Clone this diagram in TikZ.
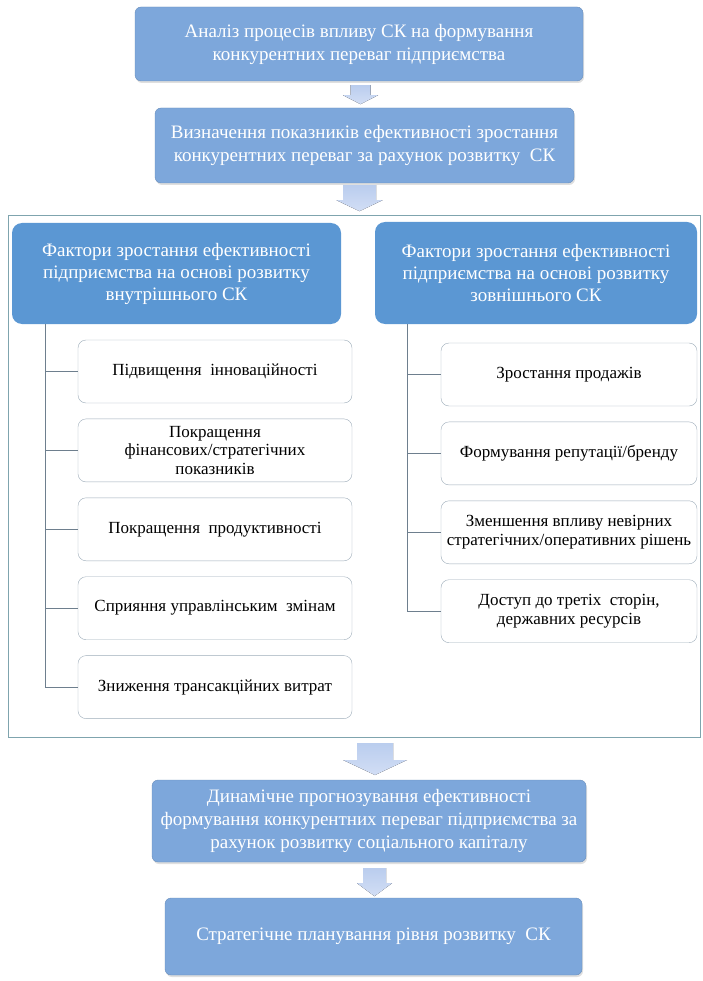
\documentclass[tikz,border=0pt]{standalone}
\usepackage{fontspec}
\setmainfont{Liberation Serif}
\usetikzlibrary{positioning,calc,shadows}

\definecolor{stageblue}{HTML}{7DA7DB}
\definecolor{headblue}{HTML}{5B97D3}
\definecolor{framecol}{HTML}{7FA4AE}
\definecolor{itemcol}{HTML}{9DACB9}
\definecolor{linecol}{HTML}{6E7F8E}
\definecolor{arrowtop}{HTML}{BACDEE}
\definecolor{arrowbot}{HTML}{D2DEF5}

\tikzset{
  every node/.style={font=\rmfamily},
  stage/.style={rectangle, rounded corners=6pt, inner sep=0pt, fill=stageblue,
    draw=stageblue!85!black, text=white, align=center,
    font=\rmfamily\fontsize{19}{23}\selectfont,
    drop shadow={opacity=0.25, shadow xshift=1pt, shadow yshift=-2pt}},
  factor/.style={rectangle, rounded corners=10pt, inner sep=0pt, fill=headblue,
    text=white, align=center, font=\rmfamily\fontsize{19}{22}\selectfont},
  item/.style={rectangle, rounded corners=8pt, inner sep=0pt, draw=itemcol,
    fill=white, align=center, font=\rmfamily\fontsize{17}{18.5}\selectfont,
    minimum height=63pt},
  branch/.style={draw=linecol, line width=0.8pt},
  blockarrow/.style={top color=arrowtop, bottom color=arrowbot}
}

% block arrow pointing down: top point, shaft half width, head half width, shaft length, total length
\newcommand{\downblock}[5]{%
  \fill[blockarrow] ($(#1)+(-#2,0)$) -- ($(#1)+(#2,0)$) -- ($(#1)+(#2,#4)$)
    -- ($(#1)+(#3,#4)$) -- ($(#1)+(0,#5)$) -- ($(#1)+(-#3,#4)$)
    -- ($(#1)+(-#2,#4)$) -- cycle;}

\begin{document}
\begin{tikzpicture}[x=1pt, y=-1pt, node distance=15.5pt]
  \useasboundingbox (0,0) rectangle (703,981);

  \node[stage, minimum width=448pt, minimum height=74pt] (analiz) at (359,44)
    {Аналіз процесів впливу СК на формування\\конкурентних переваг підприємства};
  \node[stage, minimum width=419pt, minimum height=75pt] (vyznach) at (364.5,145.5)
    {Визначення показників ефективності зростання\\конкурентних переваг за рахунок розвитку\ \ СК};

  % frame round the two groups of factors
  \draw[framecol, line width=0.8pt] (8,215) rectangle (700,737);

  \node[factor, minimum width=329pt, minimum height=101pt] (vnutr) at (176.5,273.5)
    {Фактори зростання ефективності\\підприємства на основі розвитку\\внутрішнього СК};
  \node[factor, minimum width=322pt, minimum height=102pt] (zovn) at (536,273)
    {Фактори зростання ефективності\\підприємства на основі розвитку\\зовнішнього СК};

  % left column
  \node[item, minimum width=274pt] (l1) at (215,371.5) {Підвищення\ \ інноваційності};
  \node[item, minimum width=274pt] (l2) [below=of l1] {Покращення\\фінансових/стратегічних\\показників};
  \node[item, minimum width=274pt] (l3) [below=of l2] {Покращення\ \ продуктивності};
  \node[item, minimum width=274pt] (l4) [below=of l3] {Сприяння управлінським\ \ змінам};
  \node[item, minimum width=274pt] (l5) [below=of l4] {Зниження трансакційних витрат};

  % right column
  \node[item, minimum width=256pt] (r1) at (569,374.5) {Зростання продажів};
  \node[item, minimum width=256pt] (r2) [below=of r1] {Формування репутації/бренду};
  \node[item, minimum width=256pt] (r3) [below=of r2] {Зменшення впливу невірних\\стратегічних/оперативних рішень};
  \node[item, minimum width=256pt] (r4) [below=of r3] {Доступ до третіх\ \ сторін,\\державних ресурсів};

  \coordinate (ltrunk) at (vnutr.south -| 45,0);
  \coordinate (rtrunk) at (zovn.south -| 407,0);
  \draw[branch] (ltrunk) |- (l5.west);
  \foreach \i in {1,...,4} \draw[branch] (ltrunk |- l\i.west) -- (l\i.west);
  \draw[branch] (rtrunk) |- (r4.west);
  \foreach \i in {1,...,3} \draw[branch] (rtrunk |- r\i.west) -- (r\i.west);

  \node[stage, minimum width=434pt, minimum height=82pt] (prognoz) at (369,821)
    {Динамічне прогнозування ефективності\\формування конкурентних переваг підприємства за\\рахунок розвитку соціального капіталу};
  \node[stage, minimum width=417pt, minimum height=77pt] (plan) at (373.5,936.5)
    {Стратегічне планування рівня розвитку\ \ СК};

  \coordinate (a1) at ($(analiz.south -| 360.5,0)+(0,4)$);
  \coordinate (a2) at ($(vyznach.south -| 359.5,0)+(0,2)$);
  \coordinate (a3) at (375,743);
  \coordinate (a4) at ($(prognoz.south -| 374.5,0)+(0,6)$);
  \downblock{a1}{10}{17.5}{10}{19}
  \downblock{a2}{16.5}{23}{15}{26}
  \downblock{a3}{18}{32}{17}{32}
  \downblock{a4}{11.5}{17.5}{15}{28}
\end{tikzpicture}
\end{document}
